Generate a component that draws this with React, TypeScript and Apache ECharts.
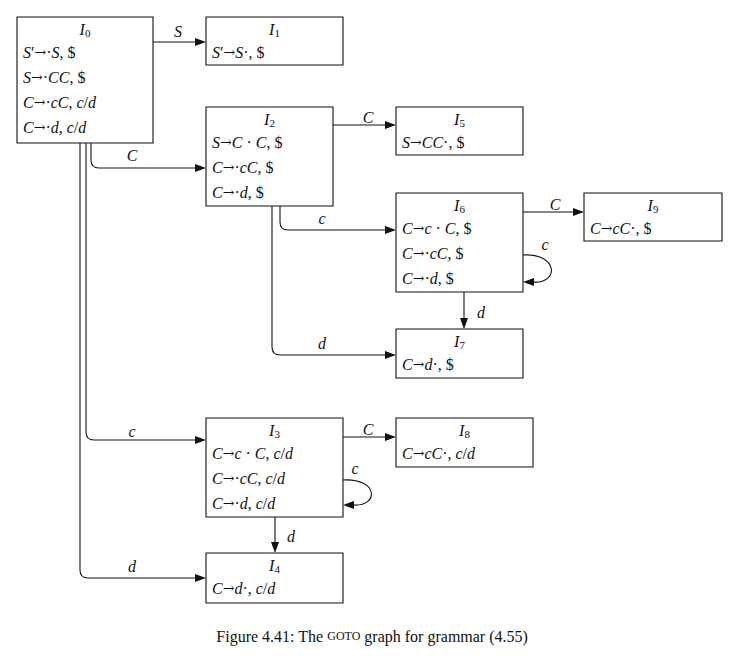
import { useEffect, useRef } from "react";
import * as echarts from "echarts";

// states: name, subscript, x, y, w, h, item lines
const stateNames = ["I0", "I1", "I2", "I5", "I6", "I9", "I7", "I3", "I8", "I4"];
const stateBoxes = [
  [17, 17, 136, 126], [206, 17, 137, 48], [206, 107, 127, 99], [396, 107, 127, 48],
  [396, 193, 127, 99], [584, 193, 138, 48], [396, 329, 127, 49], [206, 418, 137, 99],
  [396, 418, 137, 49], [206, 553, 137, 50],
];
const stateItems = [
  ["S′→·S, $", "S→·CC, $", "C→·cC, c/d", "C→·d, c/d"],
  ["S′→S·, $"],
  ["S→C · C, $", "C→·cC, $", "C→·d, $"],
  ["S→CC·, $"],
  ["C→c · C, $", "C→·cC, $", "C→·d, $"],
  ["C→cC·, $"],
  ["C→d·, $"],
  ["C→c · C, c/d", "C→·cC, c/d", "C→·d, c/d"],
  ["C→cC·, c/d"],
  ["C→d·, c/d"],
];

// straight edges: x1, y1, x2, y2, label, lx, ly
const straightEdges: [number, number, number, number, string, number, number][] = [
  [153, 42, 206, 42, "S", 178, 31],
  [333, 125, 396, 125, "C", 368, 117],
  [523, 212, 584, 212, "C", 555, 204],
  [343, 437, 396, 437, "C", 368, 429],
  [464, 292, 464, 329, "d", 481, 312],
  [275, 517, 275, 553, "d", 291, 536],
];
// elbow edges: downX, fromY, toY, toX, label, lx, ly
const elbowEdges: [number, number, number, number, string, number, number][] = [
  [91, 143, 168, 206, "C", 132, 155],
  [86, 143, 440, 206, "c", 132, 431],
  [80, 143, 578, 206, "d", 132, 566],
  [280, 206, 230, 396, "c", 322, 218],
  [272, 206, 355, 396, "d", 322, 343],
];
// self loops: x, yOut, yIn, reach, label, lx, ly
const loops: [number, number, number, number, string, number, number][] = [
  [523, 255, 282, 36, "c", 545, 244],
  [343, 480, 505, 36, "c", 355, 468],
];

const FONT = "'Liberation Serif', 'DejaVu Serif', serif";
const black = "#111";

function rich(s: string) {
  let out = "";
  for (const ch of s) {
    if (/[A-Za-z]/.test(ch)) out += `{i|${ch}}`;
    else if (ch === "→") out += `{a|→}`;
    else out += `{n|${ch}}`;
  }
  return out;
}
const richStyles = {
  i: { fontFamily: FONT, fontStyle: "italic", fontSize: 16, fill: black },
  n: { fontFamily: FONT, fontSize: 16, fill: black },
  a: { fontFamily: "'DejaVu Serif', serif", fontSize: 14, fill: black },
  s: { fontFamily: FONT, fontSize: 11, fill: black, verticalAlign: "bottom", padding: [8, 0, 0, 0] },
};

function arrowHead(x: number, y: number, dir: "r" | "d" | "l") {
  const pts =
    dir === "r" ? [[x, y], [x - 11, y - 4], [x - 11, y + 4]]
    : dir === "l" ? [[x, y], [x + 11, y - 4], [x + 11, y + 4]]
    : [[x, y], [x - 4, y - 11], [x + 4, y - 11]];
  return { type: "polygon", shape: { points: pts }, style: { fill: black } };
}
const lineStyle = { stroke: black, lineWidth: 1.1, fill: "none" };
function label(t: string, x: number, y: number) {
  return { type: "text", x, y, style: { text: rich(t), rich: richStyles, align: "center", verticalAlign: "middle" } };
}

export default function App() {
  const ref = useRef<HTMLDivElement | null>(null);
  useEffect(() => {
    if (!ref.current) return;
    const chart = echarts.init(ref.current, null, { renderer: "svg" });
    const els: any[] = [];
    stateBoxes.forEach(([x, y, w, h], k) => {
      els.push({ type: "rect", shape: { x, y, width: w, height: h }, style: { fill: "#fff", stroke: black, lineWidth: 1.1 } });
      const nm = stateNames[k];
      els.push({
        type: "text", x: x + w / 2, y: y + 12,
        style: { text: `{i|I}{s|${nm.slice(1)}}`, rich: richStyles, align: "center", verticalAlign: "middle" },
      });
      stateItems[k].forEach((line, j) => {
        els.push({
          type: "text", x: x + 6, y: y + 35 + j * 25,
          style: { text: rich(line), rich: richStyles, align: "left", verticalAlign: "middle" },
        });
      });
    });
    straightEdges.forEach(([x1, y1, x2, y2, t, lx, ly]) => {
      const horiz = y1 === y2;
      els.push({ type: "line", shape: { x1, y1, x2: horiz ? x2 - 10 : x2, y2: horiz ? y2 : y2 - 10 }, style: lineStyle });
      els.push(arrowHead(x2, y2, horiz ? "r" : "d"));
      els.push(label(t, lx, ly));
    });
    elbowEdges.forEach(([dx, fy, ty, tx, t, lx, ly]) => {
      const r = 8;
      els.push({ type: "line", shape: { x1: dx, y1: fy, x2: dx, y2: ty - r }, style: lineStyle });
      els.push({ type: "bezierCurve", shape: { x1: dx, y1: ty - r, cpx1: dx, cpy1: ty, x2: dx + r, y2: ty }, style: lineStyle });
      els.push({ type: "line", shape: { x1: dx + r, y1: ty, x2: tx - 10, y2: ty }, style: lineStyle });
      els.push(arrowHead(tx, ty, "r"));
      els.push(label(t, lx, ly));
    });
    loops.forEach(([x, y1, y2, reach, t, lx, ly]) => {
      els.push({
        type: "bezierCurve",
        shape: { x1: x, y1, cpx1: x + reach, cpy1: y1 - 2, cpx2: x + reach, cpy2: y2 + 2, x2: x + 10, y2 },
        style: lineStyle,
      });
      els.push(arrowHead(x, y2, "l"));
      els.push(label(t, lx, ly));
    });
    els.push({
      type: "text", x: 372, y: 636,
      style: {
        text: "{n|Figure 4.41: The }{sc|GOTO}{n| graph for grammar (4.55)}",
        rich: { n: { fontFamily: FONT, fontSize: 16, fill: black }, sc: { fontFamily: FONT, fontSize: 12, fill: black } },
        align: "center", verticalAlign: "middle",
      },
    });
    chart.setOption({ animation: false, graphic: { elements: els } });
    return () => chart.dispose();
  }, []);
  return <div ref={ref} style={{ position: "absolute", left: 0, top: 0, width: 744, height: 664, background: "#fff" }} />;
}
